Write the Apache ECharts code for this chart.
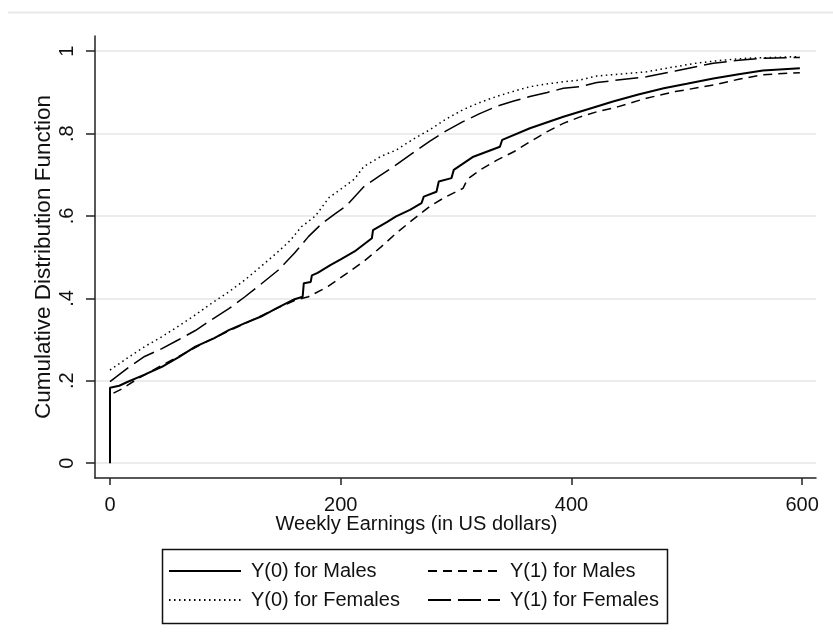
<!DOCTYPE html>
<html><head><meta charset="utf-8">
<script src="https://cdn.jsdelivr.net/npm/echarts@6/dist/echarts.min.js"></script>
<style>html,body{margin:0;padding:0;background:#fff}#c{width:833px;height:644px}</style>
</head><body><div id="c"></div>
<script>
const FONT = "'Liberation Sans', Arial, sans-serif";
const xTicks = [0, 200, 400, 600];
const yTicks = [0, 0.2, 0.4, 0.6, 0.8, 1];
const yTickLabels = ['0', '.2', '.4', '.6', '.8', '1'];
const seriesNames = ['Y(0) for Males', 'Y(1) for Males', 'Y(0) for Females', 'Y(1) for Females'];
const xTitle = 'Weekly Earnings (in US dollars)';
const yTitle = 'Cumulative Distribution Function';

// Y(0) for Males
const m0x = [0, 0, 8, 15, 30, 45, 60, 74, 90, 103, 117, 131, 145, 160, 167, 168, 174, 175, 180, 191, 200, 212, 227, 228, 240, 248, 260, 270, 272, 283, 285, 296, 298, 315, 338, 340, 364, 393, 422, 436, 458, 480, 500, 523, 545, 566, 598];
const m0y = [0, 0.183, 0.188, 0.197, 0.215, 0.234, 0.258, 0.283, 0.303, 0.323, 0.340, 0.356, 0.377, 0.398, 0.404, 0.437, 0.440, 0.456, 0.462, 0.481, 0.495, 0.514, 0.546, 0.566, 0.585, 0.599, 0.615, 0.631, 0.647, 0.659, 0.684, 0.692, 0.712, 0.744, 0.768, 0.785, 0.813, 0.841, 0.866, 0.878, 0.895, 0.910, 0.921, 0.934, 0.944, 0.953, 0.959];
// Y(1) for Males
const m1x = [3, 10, 24, 40, 60, 80, 100, 120, 140, 160, 172, 189, 205, 220, 235, 248, 262, 277, 290, 306, 310, 321, 335, 350, 364, 379, 393, 407, 422, 440, 465, 490, 523, 545, 566, 598];
const m1y = [0.170, 0.180, 0.205, 0.230, 0.260, 0.290, 0.317, 0.343, 0.370, 0.395, 0.404, 0.429, 0.460, 0.490, 0.525, 0.558, 0.590, 0.623, 0.645, 0.667, 0.690, 0.712, 0.735, 0.756, 0.780, 0.805, 0.825, 0.840, 0.853, 0.865, 0.886, 0.902, 0.918, 0.932, 0.943, 0.948];
// Y(0) for Females
const f0x = [0, 15, 30, 45, 59, 74, 88, 103, 117, 131, 146, 156, 166, 178, 190, 200, 212, 220, 235, 248, 262, 277, 291, 306, 320, 335, 350, 364, 380, 393, 407, 422, 440, 465, 485, 508, 530, 552, 575, 598];
const f0y = [0.226, 0.255, 0.283, 0.307, 0.332, 0.360, 0.388, 0.416, 0.445, 0.478, 0.514, 0.540, 0.574, 0.600, 0.645, 0.665, 0.690, 0.720, 0.745, 0.760, 0.785, 0.809, 0.835, 0.858, 0.875, 0.890, 0.903, 0.914, 0.921, 0.926, 0.930, 0.940, 0.944, 0.950, 0.960, 0.971, 0.978, 0.983, 0.985, 0.987];
// Y(1) for Females
const f1x = [0, 15, 30, 45, 59, 74, 88, 103, 117, 131, 146, 160, 172, 183, 195, 205, 220, 234, 248, 262, 277, 291, 306, 320, 335, 350, 364, 379, 393, 407, 422, 440, 465, 490, 523, 545, 566, 598];
const f1y = [0.198, 0.230, 0.259, 0.278, 0.299, 0.322, 0.348, 0.375, 0.404, 0.435, 0.469, 0.510, 0.550, 0.580, 0.605, 0.625, 0.671, 0.698, 0.724, 0.752, 0.781, 0.806, 0.829, 0.848, 0.866, 0.879, 0.890, 0.900, 0.910, 0.914, 0.924, 0.930, 0.938, 0.952, 0.971, 0.978, 0.983, 0.985];

const zip = (xs, ys) => xs.map((x, i) => [x, ys[i]]);
const styles = [
  { width: 2, type: 'solid' },
  { width: 1.5, type: [9, 6] },
  { width: 1.5, type: [1.5, 3.5] },
  { width: 1.5, type: [23, 7] }
];
const datas = [zip(m0x, m0y), zip(m1x, m1y), zip(f0x, f0y), zip(f1x, f1y)];

const legendBase = {
  orient: 'vertical', top: 561, padding: 0, itemGap: 9, itemWidth: 72, itemHeight: 14,
  itemStyle: { opacity: 0 },
  formatter: name => '{t|' + name + '}',
  textStyle: {
    fontSize: 20, color: '#111', fontFamily: FONT,
    rich: { t: { height: 20, fontSize: 20, padding: [0, 0, 0, 5], color: '#111', fontFamily: FONT } }
  }
};

const chart = echarts.init(document.getElementById('c'));
chart.setOption({
  animation: false,
  backgroundColor: '#fff',
  textStyle: { fontFamily: FONT },
  title: {
    text: xTitle, left: 'center', top: 509,
    textStyle: { fontSize: 20, fontWeight: 'normal', color: '#111', fontFamily: FONT }
  },
  graphic: [{
    type: 'line', shape: { x1: 8, y1: 12.5, x2: 833, y2: 12.5 },
    style: { stroke: '#e8e8e8', lineWidth: 2 }, silent: true
  }, {
    type: 'rect', shape: { x: 162.5, y: 549.5, width: 505, height: 74 },
    style: { stroke: '#111', lineWidth: 1.5, fill: null }, silent: true
  }],
  grid: { left: 95, right: 17, top: 36, bottom: 166, containLabel: false },
  xAxis: {
    type: 'value', min: -13, max: 612,
    axisLine: { show: true, onZero: false, lineStyle: { color: '#222', width: 1.5 } },
    axisTick: { show: true, length: 7, customValues: xTicks, lineStyle: { color: '#222', width: 1.5 } },
    axisLabel: { customValues: xTicks, margin: 17, fontSize: 20, color: '#111', fontFamily: FONT },
    splitLine: { show: false }
  },
  yAxis: {
    type: 'value', min: -0.036, max: 1.037,
    name: yTitle, nameLocation: 'middle', nameGap: 40, nameMoveOverlap: false,
    nameTextStyle: { fontSize: 22.5, color: '#111', fontFamily: FONT },
    axisLine: { show: true, onZero: false, lineStyle: { color: '#222', width: 1.5 } },
    axisTick: { show: true, length: 9, customValues: yTicks, lineStyle: { color: '#222', width: 1.5 } },
    axisLabel: {
      customValues: yTicks, rotate: 90, margin: 18, fontSize: 20, color: '#111', fontFamily: FONT,
      formatter: v => yTickLabels[yTicks.indexOf(v)]
    },
    splitLine: { show: true, lineStyle: { color: '#e6e6e6', width: 1.5 } }
  },
  legend: [
    Object.assign({}, legendBase, { left: 168, data: [seriesNames[0], seriesNames[2]] }),
    Object.assign({}, legendBase, { left: 427, data: [seriesNames[1], seriesNames[3]] })
  ],
  series: seriesNames.map((n, i) => ({
    name: n, type: 'line', data: datas[i], symbol: 'none', showSymbol: false,
    color: '#000',
    lineStyle: { color: '#000', width: styles[i].width, type: styles[i].type, cap: 'butt' },
    emphasis: { disabled: true }
  }))
});
</script>
</body></html>
